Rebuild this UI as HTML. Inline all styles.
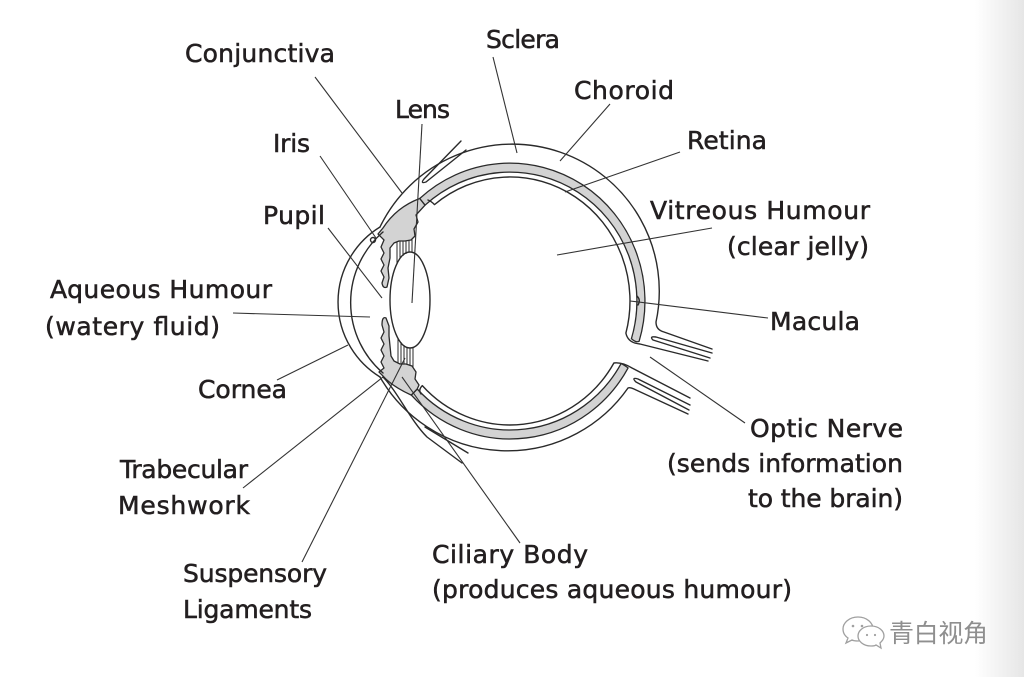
<!DOCTYPE html>
<html>
<head>
<meta charset="utf-8">
<style>
  html,body{margin:0;padding:0;background:#fff;}
  body{width:1024px;height:677px;overflow:hidden;}
  svg{display:block;}
  .t{font-family:"DejaVu Sans","Liberation Sans",sans-serif;font-size:25px;fill:#231f20;stroke:#231f20;stroke-width:0.55px;}
</style>
</head>
<body>
<svg width="1024" height="677" viewBox="0 0 1024 677" xmlns="http://www.w3.org/2000/svg">
  <defs>
    <linearGradient id="edge" x1="0" x2="1" y1="0" y2="0">
      <stop offset="0" stop-color="#ffffff"/>
      <stop offset="1" stop-color="#e6e6e6"/>
    </linearGradient>
  </defs>
  <rect width="1024" height="677" fill="#fff"/>
  <rect x="975" y="0" width="49" height="677" fill="url(#edge)"/>

  <!-- grey bands (choroid) -->
  <g fill="#d3d3d3" stroke="#2a2a2a" stroke-width="1.3" stroke-linejoin="round">
    <path d="M 419.7 198.5 A 135 138 0 0 1 639.1 341.3 Q 636 343 631.4 338.7 A 127 129 0 0 0 425 205.2 Z"/>
    <path d="M 628.1 367.9 A 135 138 0 0 1 411.3 395.1 L 417.2 389 A 127 129 0 0 0 621.1 363.6 Q 624 365 628.1 367.9 Z"/>
    <!-- upper ciliary body + iris -->
    <path d="M 419.7 198.5 C 405 204, 392 214, 383 228 L 378 234 L 384 240 L 381 247 L 384 253 L 381 259 L 384 265 L 381 271 L 384 277 L 382 283 Q 383 289 387 287 L 389 278 L 388 268 L 390 258 L 390 248 L 394 243 L 399 241 L 405 241 L 411 240 L 415 236 L 414 229 L 418 222 L 416 215 L 425 205.2 Z"/>
    <!-- lower ciliary body + iris -->
    <path d="M 411.3 395.1 C 400 390, 390 384, 383 376 L 379 372 L 384 368 L 381 362 L 384 356 L 381 350 L 384 344 L 381 338 L 384 332 L 382 325 Q 382 316 386 318 L 389 326 L 389 336 L 390 346 L 391 356 L 394 361 L 400 364 L 406 364 L 412 366 L 416 372 L 415 379 L 419 385 L 417.2 389 Z"/>
  </g>

  <g fill="none" stroke="#2a2a2a" stroke-width="1.4" stroke-linejoin="round" stroke-linecap="round">
    <!-- sclera outer upper + optic nerve upper sheath -->
    <path d="M 712 349 L 664 332 Q 656 330 656 322 A 147 147 0 0 0 380 227"/>
    <!-- sclera outer lower + optic nerve lower sheath -->
    <path d="M 688 414 L 634 389 Q 630 387 628 388 A 147 147 0 0 1 380 377"/>
    <!-- cornea outer -->
    <path d="M 380 227 A 88 88 0 0 0 380 377"/>
    <!-- cornea inner -->
    <path d="M 383 232 A 93 93 0 0 0 383 373"/>
    <!-- retina inner upper -->
    <path d="M 428 200 Q 431 201 434.5 204.6 A 120 124 0 0 1 625.9 333.1 Q 628 343 640 344 L 708 361"/>
    <!-- retina inner lower -->
    <path d="M 690 398 L 632 368 Q 622 362 613.9 363 A 120 124 0 0 1 422.3 385.6 Q 418 390 421 394"/>
    <!-- optic nerve hairpins -->
    <path d="M 712 353 L 656 337 Q 649 336 653 340 L 710 358"/>
    <path d="M 690 405 L 638 379 Q 631 377 636 382 L 689 410"/>
    <!-- macula notch -->
    <path d="M 637 296 Q 641 300 638 305"/>
    <!-- conjunctiva top fold -->
    <path d="M 461 141 L 424 179 Q 420 184 426 182 L 466 150"/>
    <!-- conjunctiva bottom -->
    <path d="M 383 377 C 398 392, 410 420, 427 437 L 462 463"/>
    <path d="M 425 427 L 468 453"/>
    <!-- lens -->
    <ellipse cx="410" cy="300" rx="20" ry="48" fill="#fff"/>
    <!-- Schlemm canal -->
    <circle cx="373" cy="240" r="2.5"/>
  </g>

  <!-- zonules -->
  <g stroke="#2a2a2a" stroke-width="1">
    <line x1="397" y1="242" x2="397" y2="264"/>
    <line x1="400" y1="241" x2="400" y2="259"/>
    <line x1="403" y1="241" x2="403" y2="256"/>
    <line x1="406" y1="241" x2="406" y2="254"/>
    <line x1="409" y1="240" x2="409" y2="252"/>
    <line x1="412" y1="239" x2="412" y2="252"/>
    <line x1="398" y1="338" x2="398" y2="363"/>
    <line x1="401" y1="342" x2="401" y2="364"/>
    <line x1="404" y1="345" x2="404" y2="364"/>
    <line x1="407" y1="347" x2="407" y2="364"/>
    <line x1="410" y1="348" x2="410" y2="365"/>
    <line x1="413" y1="347" x2="413" y2="367"/>
  </g>

  <!-- leader lines -->
  <g stroke="#333" stroke-width="1.1" fill="none">
    <line x1="315" y1="77" x2="402" y2="193"/>
    <line x1="493" y1="57" x2="517" y2="153"/>
    <line x1="422" y1="124" x2="412" y2="303"/>
    <line x1="610" y1="104" x2="560" y2="161"/>
    <line x1="320" y1="156" x2="376" y2="238"/>
    <line x1="680" y1="152" x2="565" y2="192"/>
    <line x1="328" y1="228" x2="382" y2="298"/>
    <line x1="712" y1="228" x2="557" y2="255"/>
    <line x1="233" y1="313" x2="370" y2="317"/>
    <line x1="630" y1="301" x2="768" y2="318"/>
    <line x1="277" y1="380" x2="348" y2="345"/>
    <line x1="650" y1="357" x2="745" y2="423"/>
    <line x1="243" y1="488" x2="383" y2="377"/>
    <line x1="302" y1="562" x2="405" y2="358"/>
    <line x1="520" y1="543" x2="402" y2="377"/>
  </g>

  <!-- labels -->
  <g class="t">
    <text x="185" y="62" textLength="150">Conjunctiva</text>
    <text x="486" y="48" textLength="74">Sclera</text>
    <text x="395" y="118" textLength="55">Lens</text>
    <text x="574" y="99" textLength="100">Choroid</text>
    <text x="273" y="152" textLength="37">Iris</text>
    <text x="687" y="149" textLength="80">Retina</text>
    <text x="263" y="224" textLength="62">Pupil</text>
    <text x="650" y="219" textLength="220">Vitreous Humour</text>
    <text x="727" y="255" textLength="142">(clear jelly)</text>
    <text x="50" y="298" textLength="222">Aqueous Humour</text>
    <text x="45" y="335" textLength="175">(watery fluid)</text>
    <text x="770" y="330" textLength="90">Macula</text>
    <text x="198" y="398" textLength="89">Cornea</text>
    <text x="120" y="478" textLength="128">Trabecular</text>
    <text x="118" y="514" textLength="132">Meshwork</text>
    <text x="183" y="582" textLength="144">Suspensory</text>
    <text x="183" y="618" textLength="129">Ligaments</text>
    <text x="750" y="437" textLength="153">Optic Nerve</text>
    <text x="667" y="472" textLength="236">(sends information</text>
    <text x="748" y="507" textLength="155">to the brain)</text>
    <text x="432" y="563" textLength="156">Ciliary Body</text>
    <text x="432" y="598" textLength="360">(produces aqueous humour)</text>
  </g>

  <!-- watermark -->
  <g fill="#fff" stroke="#a0a0a0" stroke-width="1.3">
    <path d="M 858 617 C 849 617, 843 623, 843 629 C 843 633, 845 636, 848 638 L 846 643 L 852 640 C 854 641, 856 641, 858 641 C 867 641, 873 635, 873 629 C 873 623, 867 617, 858 617 Z"/>
    <path d="M 871 626 C 863 626, 858 631, 858 636 C 858 641, 863 646, 871 646 C 873 646, 875 646, 876 645 L 881 648 L 880 643 C 882 641, 884 639, 884 636 C 884 631, 879 626, 871 626 Z"/>
  </g>
  <g fill="#a0a0a0">
    <circle cx="853" cy="626" r="1.3"/>
    <circle cx="862" cy="626" r="1.3"/>
    <circle cx="867" cy="635" r="1.1"/>
    <circle cx="875" cy="635" r="1.1"/>
  </g>
  <text x="889" y="642" font-family="'Liberation Sans','Noto Sans CJK SC',sans-serif" font-size="25" fill="#8f8f8f" textLength="99">青白视角</text>
</svg>
</body>
</html>
